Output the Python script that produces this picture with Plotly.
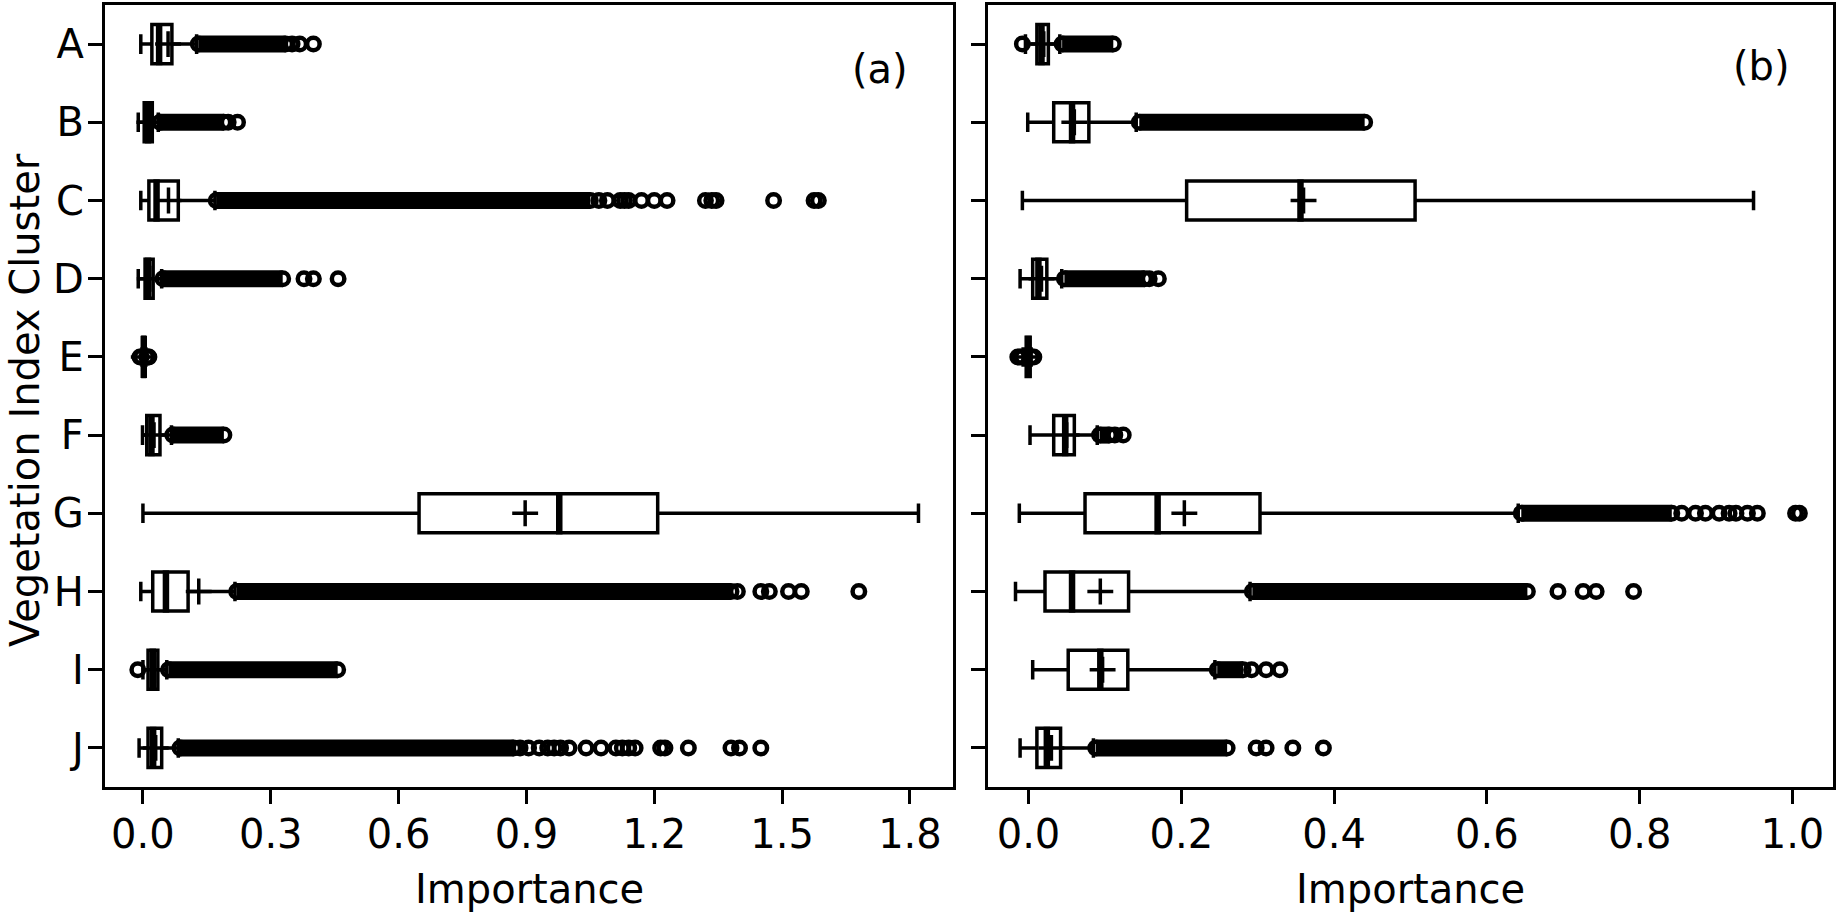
import plotly.graph_objects as go

# clusters, plotted top to bottom
clusters = ['A', 'B', 'C', 'D', 'E', 'F', 'G', 'H', 'I', 'J']
positions = list(range(1, 11))

# panel (a) box statistics
a_low = [-0.005, -0.011, -0.005, -0.011, -0.002, -0.001, 0.0, -0.005, 0.0, -0.009]
a_q1 = [0.021, 0.003, 0.014, 0.005, 0.0, 0.009, 0.648, 0.023, 0.012, 0.012]
a_med = [0.038, 0.012, 0.032, 0.012, 0.002, 0.020, 0.977, 0.054, 0.023, 0.024]
a_q3 = [0.068, 0.022, 0.083, 0.024, 0.004, 0.040, 1.208, 0.106, 0.035, 0.044]
a_high = [0.126, 0.036, 0.169, 0.044, 0.007, 0.067, 1.82, 0.216, 0.056, 0.083]
a_mean = [0.059, 0.015, 0.060, 0.016, 0.002, 0.026, 0.897, 0.131, 0.027, 0.030]
# ranges where the outliers overlap into a solid band
a_band_lo = [0.13, 0.04, 0.172, 0.047, None, 0.07, None, 0.22, 0.06, 0.087]
a_band_hi = [0.335, 0.19, 1.05, 0.328, None, 0.19, None, 1.38, 0.457, 0.87]
a_fliers = [
    [0.35, 0.368, 0.40],
    [0.20, 0.222],
    [1.07, 1.09, 1.12, 1.13, 1.14, 1.17, 1.20, 1.23, 1.32, 1.335, 1.345, 1.48, 1.575, 1.585],
    [0.378, 0.40, 0.458],
    [-0.007, -0.004, 0.009, 0.012, 0.014],
    [],
    [],
    [1.395, 1.45, 1.47, 1.515, 1.545, 1.68],
    [-0.012],
    [0.885, 0.905, 0.93, 0.95, 0.965, 0.98, 1.0, 1.04, 1.075, 1.11, 1.125, 1.14,
     1.155, 1.215, 1.225, 1.28, 1.38, 1.40, 1.45],
]

# panel (b) box statistics
b_low = [-0.004, -0.001, -0.008, -0.011, -0.007, 0.002, -0.012, -0.017, 0.0055, -0.011]
b_q1 = [0.011, 0.033, 0.207, 0.0055, -0.003, 0.033, 0.074, 0.0216, 0.052, 0.011]
b_med = [0.017, 0.057, 0.356, 0.013, 0.0, 0.048, 0.169, 0.057, 0.094, 0.024]
b_q3 = [0.026, 0.079, 0.506, 0.024, 0.002, 0.060, 0.303, 0.131, 0.130, 0.042]
b_high = [0.041, 0.141, 0.949, 0.0435, 0.0035, 0.090, 0.641, 0.290, 0.244, 0.085]
b_mean = [0.020, 0.060, 0.360, 0.017, 0.0, 0.050, 0.204, 0.094, 0.097, 0.030]
b_band_lo = [0.044, 0.145, None, 0.047, None, 0.093, 0.645, 0.293, 0.247, 0.088]
b_band_hi = [0.111, 0.44, None, 0.152, None, 0.106, 0.842, 0.653, 0.281, 0.26]
b_fliers = [
    [-0.008],
    [],
    [],
    [0.158, 0.17],
    [-0.014, -0.011, -0.008, 0.004, 0.007],
    [0.113, 0.124],
    [0.855, 0.873, 0.886, 0.904, 0.917, 0.926, 0.941, 0.954, 1.004, 1.009],
    [0.693, 0.726, 0.743, 0.792],
    [0.292, 0.311, 0.329],
    [0.298, 0.311, 0.346, 0.386],
]

a_ticks = [0.0, 0.3, 0.6, 0.9, 1.2, 1.5, 1.8]
b_ticks = [0.0, 0.2, 0.4, 0.6, 0.8, 1.0]

FONT = 'DejaVu Sans'
FS = 40
BOX_W = 0.5


def panel_traces(low, q1, med, q3, high, mean, band_lo, band_hi, fliers, xa, ya):
    traces = []
    traces.append(go.Box(
        y=positions, q1=q1, median=med, q3=q3, lowerfence=low, upperfence=high,
        orientation='h', width=BOX_W, whiskerwidth=0.5, boxpoints=False,
        fillcolor='white', line=dict(color='black', width=3.5),
        xaxis=xa, yaxis=ya, hoverinfo='skip'))
    # thick median lines
    mx, my = [], []
    for p, m in zip(positions, med):
        mx += [m, m, None]
        my += [p - BOX_W / 2 - 0.02, p + BOX_W / 2 + 0.02, None]
    traces.append(go.Scatter(x=mx, y=my, mode='lines',
                             line=dict(color='black', width=6.5),
                             xaxis=xa, yaxis=ya, hoverinfo='skip'))
    # dense outlier bands
    bx, by = [], []
    for p, lo, hi in zip(positions, band_lo, band_hi):
        if lo is None:
            continue
        bx += [lo, hi, None]
        by += [p, p, None]
    traces.append(go.Scatter(x=bx, y=by, mode='lines+markers',
                             line=dict(color='black', width=17),
                             marker=dict(symbol='circle-open', size=12.5, color='black',
                                         line=dict(width=4.5)),
                             xaxis=xa, yaxis=ya, hoverinfo='skip'))
    # separate outliers
    fx, fy = [], []
    for p, vals in zip(positions, fliers):
        fx += vals
        fy += [p] * len(vals)
    traces.append(go.Scatter(x=fx, y=fy, mode='markers',
                             marker=dict(symbol='circle-open', size=12.5, color='black',
                                         line=dict(width=4.5)),
                             xaxis=xa, yaxis=ya, hoverinfo='skip'))
    # means
    traces.append(go.Scatter(x=mean, y=positions, mode='markers',
                             marker=dict(symbol='cross-thin', size=18.5, color='black',
                                         line=dict(width=3.5, color='black')),
                             xaxis=xa, yaxis=ya, hoverinfo='skip'))
    return traces


fig = go.Figure()
for t in panel_traces(a_low, a_q1, a_med, a_q3, a_high, a_mean,
                      a_band_lo, a_band_hi, a_fliers, 'x', 'y'):
    fig.add_trace(t)
for t in panel_traces(b_low, b_q1, b_med, b_q3, b_high, b_mean,
                      b_band_lo, b_band_hi, b_fliers, 'x2', 'y2'):
    fig.add_trace(t)

W, H = 1836, 915
axis_style = dict(showline=True, linewidth=3.3, linecolor='black', mirror=True,
                  ticks='outside', ticklen=14, tickwidth=3.3, tickcolor='black',
                  showgrid=False, zeroline=False, ticklabelstandoff=-4,
                  tickfont=dict(family=FONT, size=FS, color='black'))

fig.update_layout(
    width=W, height=H,
    margin=dict(l=0, r=0, t=0, b=0),
    paper_bgcolor='white', plot_bgcolor='white',
    showlegend=False,
    font=dict(family=FONT, size=FS, color='black'),
    xaxis=dict(domain=[105 / W, 953 / W], range=[-0.089, 1.901],
               tickvals=a_ticks, ticktext=[f'{v:.1f}' for v in a_ticks], **axis_style),
    xaxis2=dict(domain=[988 / W, 1833 / W], range=[-0.053, 1.053], anchor='y2',
                tickvals=b_ticks, ticktext=[f'{v:.1f}' for v in b_ticks], **axis_style),
    yaxis=dict(domain=[1 - 787 / H, 1 - 5 / H], range=[10.5, 0.5],
               tickvals=positions, ticktext=clusters, **axis_style),
    yaxis2=dict(domain=[1 - 787 / H, 1 - 5 / H], range=[10.5, 0.5], anchor='x2',
                tickvals=positions, showticklabels=False, **axis_style),
    annotations=[
        dict(text='Vegetation Index Cluster', textangle=-90, x=25 / W, y=1 - 400 / H,
             xref='paper', yref='paper', showarrow=False, xanchor='center', yanchor='middle'),
        dict(text='Importance', x=529 / W, y=1 - 889 / H, xref='paper', yref='paper',
             showarrow=False, xanchor='center', yanchor='middle'),
        dict(text='Importance', x=1410 / W, y=1 - 889 / H, xref='paper', yref='paper',
             showarrow=False, xanchor='center', yanchor='middle'),
        dict(text='(a)', x=880 / W, y=1 - 69 / H, xref='paper', yref='paper',
             showarrow=False, xanchor='center', yanchor='middle'),
        dict(text='(b)', x=1761 / W, y=1 - 66 / H, xref='paper', yref='paper',
             showarrow=False, xanchor='center', yanchor='middle'),
    ],
)

# page body has a default 8px margin; drop it so the figure sits at the corner
fig.write_html('out.html', config={'displayModeBar': False},
               post_script="document.body.style.margin='0';")
